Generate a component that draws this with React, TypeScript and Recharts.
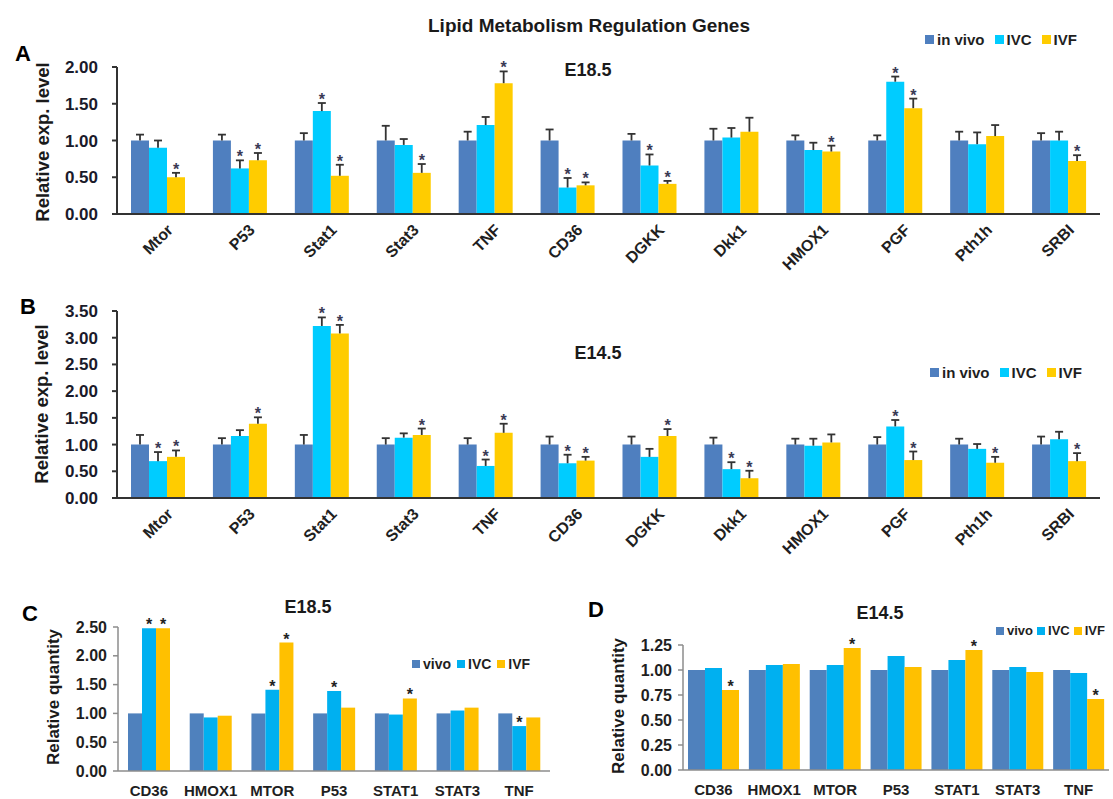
import { BarChart, Bar, XAxis, YAxis, LabelList, Legend } from 'recharts';

const FONT = '"Liberation Sans", Arial, Helvetica, sans-serif';

// panels A and B genes
const genesAB = ['Mtor', 'P53', 'Stat1', 'Stat3', 'TNF', 'CD36', 'DGKK', 'Dkk1', 'HMOX1', 'PGF', 'Pth1h', 'SRBI'];
// panels C and D genes
const genesCD = ['CD36', 'HMOX1', 'MTOR', 'P53', 'STAT1', 'STAT3', 'TNF'];

// A - E18.5
const aVivo = [1, 1, 1, 1, 1, 1, 1, 1, 1, 1, 1, 1];
const aVivoErr = [0.08, 0.08, 0.1, 0.2, 0.12, 0.15, 0.09, 0.16, 0.07, 0.07, 0.12, 0.1];
const aIvc = [0.9, 0.62, 1.4, 0.94, 1.21, 0.36, 0.66, 1.04, 0.87, 1.8, 0.95, 1.0];
const aIvcErr = [0.1, 0.11, 0.11, 0.08, 0.11, 0.13, 0.15, 0.13, 0.1, 0.07, 0.16, 0.12];
const aIvf = [0.5, 0.73, 0.52, 0.56, 1.78, 0.39, 0.41, 1.12, 0.85, 1.44, 1.06, 0.72];
const aIvfErr = [0.06, 0.1, 0.15, 0.12, 0.16, 0.04, 0.04, 0.19, 0.08, 0.13, 0.15, 0.08];
const aIvcStar = [0, 1, 1, 0, 0, 1, 1, 0, 0, 1, 0, 0];
const aIvfStar = [1, 1, 1, 1, 1, 1, 1, 0, 1, 1, 0, 1];

// B - E14.5
const bVivo = [1, 1, 1, 1, 1, 1, 1, 1, 1, 1, 1, 1];
const bVivoErr = [0.18, 0.12, 0.18, 0.12, 0.12, 0.15, 0.15, 0.13, 0.11, 0.14, 0.11, 0.15];
const bIvc = [0.69, 1.16, 3.22, 1.13, 0.6, 0.65, 0.77, 0.54, 0.98, 1.34, 0.92, 1.1];
const bIvcErr = [0.17, 0.11, 0.16, 0.08, 0.12, 0.16, 0.15, 0.13, 0.13, 0.12, 0.09, 0.14];
const bIvf = [0.77, 1.39, 3.08, 1.18, 1.22, 0.7, 1.16, 0.37, 1.04, 0.71, 0.66, 0.69];
const bIvfErr = [0.12, 0.12, 0.16, 0.12, 0.17, 0.07, 0.13, 0.14, 0.15, 0.16, 0.11, 0.15];
const bIvcStar = [1, 0, 1, 0, 1, 1, 0, 1, 0, 1, 0, 0];
const bIvfStar = [1, 1, 1, 1, 1, 1, 1, 1, 0, 1, 1, 1];

// C - E18.5
const cVivo = [1, 1, 1, 1, 1, 1, 1];
const cIvc = [2.48, 0.93, 1.41, 1.39, 0.98, 1.05, 0.78];
const cIvf = [2.48, 0.96, 2.23, 1.1, 1.26, 1.1, 0.93];
const cIvcStar = [1, 0, 1, 1, 0, 0, 1];
const cIvfStar = [1, 0, 1, 0, 1, 0, 0];

// D - E14.5
const dVivo = [1, 1, 1, 1, 1, 1, 1];
const dIvc = [1.02, 1.05, 1.05, 1.14, 1.1, 1.03, 0.97];
const dIvf = [0.8, 1.06, 1.22, 1.03, 1.2, 0.98, 0.71];
const dIvcStar = [0, 0, 0, 0, 0, 0, 0];
const dIvfStar = [1, 0, 1, 0, 1, 0, 1];

const ticksA = [0, 0.5, 1, 1.5, 2];
const ticksB = [0, 0.5, 1, 1.5, 2, 2.5, 3, 3.5];
const ticksC = [0, 0.5, 1, 1.5, 2, 2.5];
const ticksD = [0, 0.25, 0.5, 0.75, 1, 1.25];

const dataA = genesAB.map((g, i) => ({ gene: g, vivo: aVivo[i], ivc: aIvc[i], ivf: aIvf[i] }));
const dataB = genesAB.map((g, i) => ({ gene: g, vivo: bVivo[i], ivc: bIvc[i], ivf: bIvf[i] }));
const dataC = genesCD.map((g, i) => ({ gene: g, vivo: cVivo[i], ivc: cIvc[i], ivf: cIvf[i] }));
const dataD = genesCD.map((g, i) => ({ gene: g, vivo: dVivo[i], ivc: dIvc[i], ivf: dIvf[i] }));

const edgeTicks = (n: number) => Array.from({ length: n + 1 }, (_, i) => i);
const SERIES_ORDER = ['vivo', 'ivc', 'ivf'];

const AB_COLORS = { vivo: '#4f7fbf', ivc: '#00ccff', ivf: '#ffcc00' };
const CD_COLORS = { vivo: '#4f81bd', ivc: '#00b0f0', ivf: '#ffc000' };

// error bar (upper only) + significance star, sized from the bar's own scale
function errMark(errs: number[] | null, stars: number[], starColor: string) {
  return (props: any) => {
    const vb = props.viewBox || props;
    const x = Number(vb.x);
    const y = Number(vb.y);
    const w = Number(vb.width);
    const h = Number(vb.height);
    const v = Number(props.value);
    const i = props.index;
    if (!v || !h || i == null) return null;
    const top = Math.min(y, y + h);
    const cx = x + w / 2;
    const len = errs ? (errs[i] * Math.abs(h)) / v : 0;
    const capY = top - len;
    return (
      <g>
        {errs && (
          <g stroke="#333" strokeWidth={1.8}>
            <line x1={cx} y1={top} x2={cx} y2={capY} />
            <line x1={cx - 4} y1={capY} x2={cx + 4} y2={capY} />
          </g>
        )}
        {stars[i] ? (
          <text x={cx} y={capY + 2} textAnchor="middle" fontSize={16} fontWeight="bold" fill={starColor} fontFamily={FONT}>
            *
          </text>
        ) : null}
      </g>
    );
  };
}

const RotTick = (props: any) => {
  const { x, y, payload } = props;
  const px = x + 16;
  const py = y + 17;
  return (
    <text x={px} y={py} transform={`rotate(-45 ${px} ${py})`} textAnchor="end" fontSize={16} fontWeight="bold" fill="#1f1f1f" fontFamily={FONT}>
      {payload.value}
    </text>
  );
};

const legendContent = (fontSize: number, sq: number, gap: number) => (props: any) => {
  const items = [...(props.payload || [])].sort(
    (a: any, b: any) => SERIES_ORDER.indexOf(String(a.dataKey)) - SERIES_ORDER.indexOf(String(b.dataKey)),
  );
  return (
    <div style={{ display: 'flex', alignItems: 'center', fontFamily: FONT, fontSize, fontWeight: 'bold', color: '#1f1f1f', whiteSpace: 'nowrap', lineHeight: 1 }}>
      {items.map((p: any, i: number) => (
        <span key={p.value} style={{ display: 'flex', alignItems: 'center', marginRight: i < items.length - 1 ? gap : 0 }}>
          <span style={{ width: sq, height: sq, background: p.color, marginRight: 3, display: 'inline-block' }} />
          {p.value}
        </span>
      ))}
    </div>
  );
};

const Txt = ({ x, y, size, rotate, children, color = '#1a1a1a' }: any) => (
  <div
    style={{
      position: 'absolute',
      left: x,
      top: y,
      transform: `translate(-50%, -50%)${rotate ? ' rotate(-90deg)' : ''}`,
      fontFamily: FONT,
      fontWeight: 'bold',
      fontSize: size,
      lineHeight: 1,
      whiteSpace: 'nowrap',
      color,
    }}
  >
    {children}
  </div>
);

const Letter = ({ x, y, children }: any) => (
  <div style={{ position: 'absolute', left: x, top: y, fontFamily: FONT, fontWeight: 'bold', fontSize: 22, lineHeight: 1, color: '#000' }}>
    {children}
  </div>
);

function PanelAB({ data, ticks, max, err, stars, top, height, plotTop, plotBottom, legendTop }: any) {
  const dark = '#333';
  return (
    <div style={{ position: 'absolute', left: 0, top }}>
      <BarChart
        width={1113}
        height={height}
        data={data}
        margin={{ top: plotTop - top, right: 13, left: 0, bottom: top + height - plotBottom - 2 }}
        barCategoryGap={14}
        barGap={0}
      >
        <XAxis xAxisId="edge" type="number" domain={[0, 12]} ticks={edgeTicks(12)} allowDataOverflow tick={false} axisLine={false} tickSize={5} tickLine={{ stroke: dark, strokeWidth: 2 }} height={1} />
        <XAxis dataKey="gene" interval={0} tick={<RotTick />} tickLine={false} tickSize={0} tickMargin={0} axisLine={{ stroke: dark, strokeWidth: 2 }} height={1} />
        <YAxis
          domain={[0, max]}
          ticks={ticks}
          interval={0}
          width={117}
          tickFormatter={(v: number) => v.toFixed(2)}
          tickSize={5}
          tickMargin={14}
          axisLine={{ stroke: dark, strokeWidth: 2 }}
          tickLine={{ stroke: dark, strokeWidth: 2 }}
          tick={{ fontSize: 17, fontWeight: 'bold', fill: '#1a1a2a', fontFamily: FONT }}
        />
        <Legend layout="vertical" verticalAlign="middle" align="center" wrapperStyle={legendTop} content={legendContent(15, 9, 10)} />
        <Bar dataKey="vivo" name="in vivo" fill={AB_COLORS.vivo} isAnimationActive={false}>
          <LabelList dataKey="vivo" content={errMark(err.vivo, stars.none, '#3a3a55')} />
        </Bar>
        <Bar dataKey="ivc" name="IVC" fill={AB_COLORS.ivc} isAnimationActive={false}>
          <LabelList dataKey="ivc" content={errMark(err.ivc, stars.ivc, '#3a3a55')} />
        </Bar>
        <Bar dataKey="ivf" name="IVF" fill={AB_COLORS.ivf} isAnimationActive={false}>
          <LabelList dataKey="ivf" content={errMark(err.ivf, stars.ivf, '#3a3a55')} />
        </Bar>
      </BarChart>
    </div>
  );
}

function PanelCD({ data, ticks, max, stars, left, width, axisX, plotRight, plotTop, plotBottom, gap, legendPos, legendFont, legendGap }: any) {
  const grey = '#8c8c8c';
  const top = 560;
  const height = 239;
  return (
    <div style={{ position: 'absolute', left, top }}>
      <BarChart
        width={width}
        height={height}
        data={data}
        margin={{ top: plotTop - top, right: left + width - plotRight, left: 0, bottom: top + height - plotBottom - 2 }}
        barCategoryGap={gap}
        barGap={0}
      >
        <XAxis xAxisId="edge" type="number" domain={[0, 7]} ticks={edgeTicks(7)} allowDataOverflow tick={false} axisLine={false} tickSize={5} tickLine={{ stroke: grey, strokeWidth: 1.5 }} height={1} />
        <XAxis dataKey="gene" interval={0} tickLine={false} tickSize={0} tickMargin={14} axisLine={{ stroke: grey, strokeWidth: 1.5 }} height={1} tick={{ fontSize: 15, fontWeight: 'bold', fill: '#1f1f1f', fontFamily: FONT }} />
        <YAxis
          domain={[0, max]}
          ticks={ticks}
          interval={0}
          width={axisX - left}
          tickFormatter={(v: number) => v.toFixed(2)}
          tickSize={5}
          tickMargin={6}
          axisLine={{ stroke: grey, strokeWidth: 1.5 }}
          tickLine={{ stroke: grey, strokeWidth: 1.5 }}
          tick={{ fontSize: 16, fontWeight: 'bold', fill: '#1f1f1f', fontFamily: FONT }}
        />
        <Legend layout="vertical" verticalAlign="middle" align="center" wrapperStyle={legendPos} content={legendContent(legendFont, 8, legendGap)} />
        <Bar dataKey="vivo" name="vivo" fill={CD_COLORS.vivo} isAnimationActive={false} />
        <Bar dataKey="ivc" name="IVC" fill={CD_COLORS.ivc} isAnimationActive={false}>
          <LabelList dataKey="ivc" content={errMark(null, stars.ivc, '#222')} />
        </Bar>
        <Bar dataKey="ivf" name="IVF" fill={CD_COLORS.ivf} isAnimationActive={false}>
          <LabelList dataKey="ivf" content={errMark(null, stars.ivf, '#222')} />
        </Bar>
      </BarChart>
    </div>
  );
}

const noStars = genesAB.map(() => 0);

export default function App() {
  return (
    <div style={{ position: 'relative', width: 1113, height: 799, background: '#fff', overflow: 'hidden' }}>
      <style>{'body{margin:0}'}</style>

      <Txt x={589} y={25} size={19}>Lipid Metabolism Regulation Genes</Txt>

      <PanelAB
        data={dataA}
        ticks={ticksA}
        max={2}
        err={{ vivo: aVivoErr, ivc: aIvcErr, ivf: aIvfErr }}
        stars={{ none: noStars, ivc: aIvcStar, ivf: aIvfStar }}
        top={0}
        height={280}
        plotTop={67}
        plotBottom={214}
        legendTop={{ top: 32, left: 925, width: 'auto' }}
      />
      <Letter x={15} y={43}>A</Letter>
      <Txt x={588} y={70} size={18}>E18.5</Txt>
      <Txt x={43} y={142} size={18.5} rotate>Relative exp. level</Txt>

      <PanelAB
        data={dataB}
        ticks={ticksB}
        max={3.5}
        err={{ vivo: bVivoErr, ivc: bIvcErr, ivf: bIvfErr }}
        stars={{ none: noStars, ivc: bIvcStar, ivf: bIvfStar }}
        top={280}
        height={280}
        plotTop={311}
        plotBottom={498}
        legendTop={{ top: 85, left: 930, width: 'auto' }}
      />
      <Letter x={20} y={296}>B</Letter>
      <Txt x={598} y={353} size={18}>E14.5</Txt>
      <Txt x={42} y={404} size={18.5} rotate>Relative exp. level</Txt>

      <PanelCD
        data={dataC}
        ticks={ticksC}
        max={2.5}
        stars={{ ivc: cIvcStar, ivf: cIvfStar }}
        left={0}
        width={560}
        axisX={118}
        plotRight={550}
        plotTop={627}
        plotBottom={771}
        gap={10}
        legendPos={{ top: 97, left: 412, width: 'auto' }}
        legendFont={14}
        legendGap={6}
      />
      <Letter x={22} y={603}>C</Letter>
      <Txt x={308} y={607} size={18}>E18.5</Txt>
      <Txt x={53} y={697} size={17} rotate>Relative quantity</Txt>

      <PanelCD
        data={dataD}
        ticks={ticksD}
        max={1.25}
        stars={{ ivc: dIvcStar, ivf: dIvfStar }}
        left={560}
        width={553}
        axisX={683}
        plotRight={1109}
        plotTop={645}
        plotBottom={770}
        gap={5}
        legendPos={{ top: 64, left: 436, width: 'auto' }}
        legendFont={13}
        legendGap={4}
      />
      <Letter x={588} y={599}>D</Letter>
      <Txt x={880} y={613} size={18}>E14.5</Txt>
      <Txt x={618} y={706} size={17} rotate>Relative quantity</Txt>
    </div>
  );
}
